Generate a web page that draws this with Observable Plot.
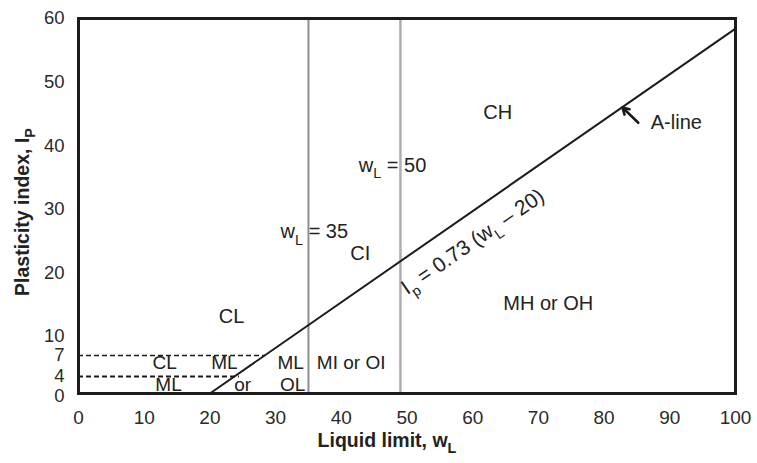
<!DOCTYPE html>
<html>
<head>
<meta charset="utf-8">
<script src="https://cdn.jsdelivr.net/npm/d3@7"></script>
<script src="https://cdn.jsdelivr.net/npm/@observablehq/plot@0.6"></script>
<style>
  body { margin: 0; background: #fff; }
</style>
</head>
<body>
<div id="chart"></div>
<script>
// ---- data ----
const xTicks = [0, 10, 20, 30, 40, 50, 60, 70, 80, 90, 100];
const yTicks = [4, 7, 10, 20, 30, 40, 50, 60];
const yTickZero = [0];

const wallWL = [35, 49];             // vertical boundary lines (wL = 35, wL = 50)
const aLineWL = [20, 100];           // A-line: Ip = 0.73 (wL - 20)
const aLineIP = [0, 58.4];
const dashIP = [7, 4];               // dashed CL-ML band limits
const dashEndWL = [28.5, 24.5];

const zoneText = ["CH", "w_L = 50", "w_L = 35", "CI", "MH or OH", "CL"];
const zoneWL   = [63.8, 47.8, 35.9, 42.9, 71.5, 23.3];
const zoneIP   = [45.2, 36.9, 26.5, 23.0, 15.2, 13.1];

const bandText = ["CL", "ML", "ML", "MI or OI", "ML", "or", "OL"];
const bandWL   = [13.1, 22.2, 32.3, 41.5, 13.7, 25.0, 32.6];
const bandLIP  = [5.9, 5.9, 6.0, 6.0, 2.0, 2.0, 2.0];

const formulaText = ["I_p = 0.73 (w_L \u2013 20)"];
const formulaWL = [60];
const formulaIP = [24.9];

const aLabelText = ["A-line"];
const aLabelWL = [87.1];
const aLabelIP = [43.6];
const arrowWL = [85.2, 82.8];        // tail, head
const arrowIP = [43.6, 46.0];

const xTitle = ["Liquid limit, w_L"];
const yTitle = ["Plasticity index, I_P"];

// the reference's y axis is stretched near the bottom (0, 4, 7 spaced wider)
const bandIP  = [0, 4, 7, 60];
const bandPos = [0, 2.72, 6.08, 60];
const stretch = d3.scaleLinear().domain(bandIP).range(bandPos);
const sy = key => d => stretch(d[key]);

// ---- tables built from the arrays ----
const aLine = aLineWL.map((x, i) => ({x, y: aLineIP[i]}));
const dash7 = [{y: dashIP[0], x1: 0, x2: dashEndWL[0]}];
const dash4 = [{y: dashIP[1], x1: 0, x2: dashEndWL[1]}];
const zones = zoneText.map((t, i) => ({t, x: zoneWL[i], y: zoneIP[i]}));
const bands = bandText.map((t, i) => ({t, x: bandWL[i], y: bandLIP[i]}));
const formula = formulaText.map((t, i) => ({t, x: formulaWL[i], y: formulaIP[i]}));
const aLabel = aLabelText.map((t, i) => ({t, x: aLabelWL[i], y: aLabelIP[i]}));
const arrow = [{x1: arrowWL[0], y1: arrowIP[0], x2: arrowWL[1], y2: arrowIP[1]}];

const ink = "#1c1c1c";
const font = "'Liberation Sans', Arial, Helvetica, sans-serif";
const yAxisStyle = {
  tickSize: 0, tickPadding: 14, label: null, fontSize: 18.5,
  tickFormat: p => String(Math.round(stretch.invert(p)))
};

const chart = Plot.plot({
  width: 757,
  height: 463,
  marginTop: 18,
  marginBottom: 70,
  marginLeft: 78,
  marginRight: 22,
  style: {fontFamily: font, fontSize: "19px", color: "#2a2a2a", background: "#fff"},
  x: {domain: [0, 100], ticks: xTicks, tickSize: 0, tickPadding: 17, label: null},
  y: {domain: [0, 60], label: null},
  marks: [
    Plot.axisY(yTicks.map(v => stretch(v)), yAxisStyle),
    Plot.axisY(yTickZero.map(v => stretch(v)), {...yAxisStyle, dy: 3}),
    Plot.ruleX([wallWL[0]], {x: d => d, stroke: "#8e8e8e", strokeWidth: 2}),
    Plot.ruleX([wallWL[1]], {x: d => d, stroke: "#aeaeae", strokeWidth: 2.5}),
    Plot.ruleY(dash7, {y: sy("y"), x1: "x1", x2: "x2", stroke: ink, strokeWidth: 1.3, strokeDasharray: "5,3"}),
    Plot.ruleY(dash4, {y: sy("y"), x1: "x1", x2: "x2", stroke: ink, strokeWidth: 2.2, strokeDasharray: "5,3"}),
    Plot.line(aLine, {x: "x", y: sy("y"), stroke: ink, strokeWidth: 2}),
    Plot.arrow(arrow, {x1: "x1", y1: sy("y1"), x2: "x2", y2: sy("y2"), stroke: ink, strokeWidth: 2.6, headLength: 9}),
    Plot.text(zones, {x: "x", y: sy("y"), text: "t", fontSize: 20, fill: "#222"}),
    Plot.text(bands, {x: "x", y: sy("y"), text: "t", fontSize: 19, fill: "#222"}),
    Plot.text(aLabel, {x: "x", y: sy("y"), text: "t", fontSize: 20, fill: "#222", textAnchor: "start"}),
    Plot.text(formula, {x: "x", y: sy("y"), text: "t", fontSize: 21, fill: "#222", rotate: -34.7}),
    Plot.text(xTitle, {text: d => d, frameAnchor: "bottom", textAnchor: "middle", lineAnchor: "middle",
                       dx: -20, dy: 47, fontSize: 19.5, fontWeight: "bold", fill: "#222"}),
    Plot.text(yTitle, {text: d => d, frameAnchor: "left", textAnchor: "middle", lineAnchor: "middle",
                       rotate: -90, dx: -56, dy: 6, fontSize: 19.5, fontWeight: "bold", fill: "#222"}),
    Plot.frame({stroke: ink, strokeWidth: 3})
  ]
});

// turn "_X" into real subscript tspans
d3.select(chart).selectAll("text").each(function () {
  const s = this.textContent;
  if (!s.includes("_")) return;
  const fs = parseFloat(getComputedStyle(this).fontSize) || 20;
  const parts = s.split(/_(\w)/);
  this.textContent = "";
  const shift = 0.33 * fs;
  parts.forEach((p, i) => {
    if (!p) return;
    const ts = document.createElementNS("http://www.w3.org/2000/svg", "tspan");
    ts.textContent = p;
    if (i % 2 === 1) {
      ts.setAttribute("font-size", (0.72 * fs) + "px");
      ts.setAttribute("dy", shift + "px");
    } else if (i > 0) {
      ts.setAttribute("dy", (-shift) + "px");
    }
    this.appendChild(ts);
  });
});

document.getElementById("chart").appendChild(chart);
</script>
</body>
</html>
